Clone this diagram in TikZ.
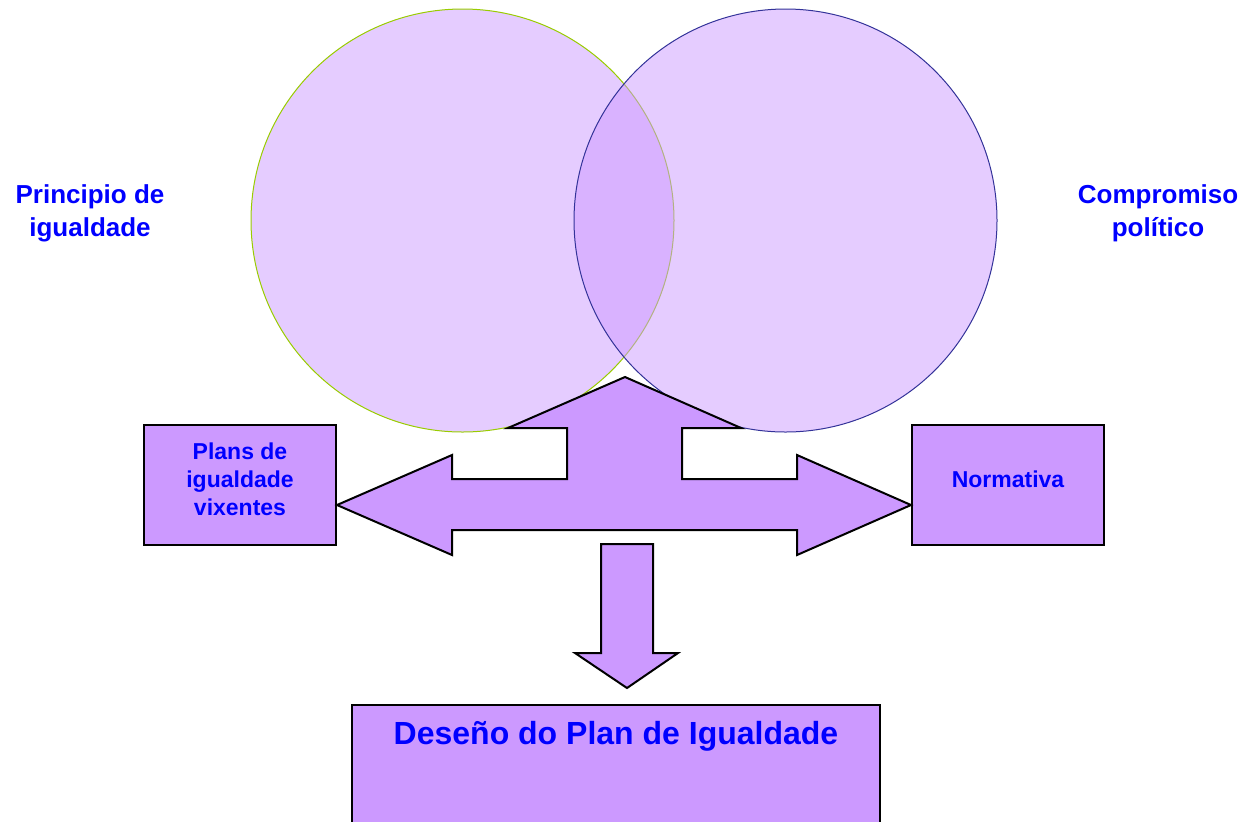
\documentclass[tikz,border=0pt]{standalone}
\usepackage{fontspec}
\setmainfont{Liberation Sans}
\definecolor{lila}{HTML}{CC99FF}
\definecolor{azul}{HTML}{0000FF}
\definecolor{verdeborde}{HTML}{99CC00}
\definecolor{azulborde}{HTML}{333399}
\tikzset{
  circulo/.style={circle, inner sep=0pt, minimum size=211.5pt, fill=lila,
    fill opacity=0.5, line width=0.5pt},
  caixa/.style={rectangle, draw=black, fill=lila, line width=1pt,
    minimum width=96pt, minimum height=60pt, inner sep=0pt},
  titulo/.style={text=azul, font=\fontsize{13}{16.5}\selectfont\bfseries, align=center},
  textocaixa/.style={text=azul, font=\fontsize{11.5}{14}\selectfont\bfseries, align=center},
  frecha/.style={draw=black, fill=lila, line width=1pt, line join=miter}
}
\begin{document}
\begin{tikzpicture}[x=0.5pt,y=-0.5pt]
  \useasboundingbox (0,0) rectangle (1246,821);
  \clip (0,0) rectangle (1246,821);
  % circulos
  \node [circulo, draw=verdeborde] (igualdade) at (462.5,220.5) {};
  \node [circulo, draw=azulborde] (compromiso) at (785.5,220.5) {};
  \node [titulo] (principiotxt) at (90,213) {Principio de\\igualdade};
  \node [titulo] (compromisotxt) at (1158,213) {Compromiso\\político};
  % caixas
  \node [caixa] (plans) at (240,485) {};
  \node [textocaixa] (planstxt) at (240,479) {Plans de\\igualdade\\vixentes};
  \node [caixa] (normativa) at (1008,485) {};
  \node [textocaixa] (normativatxt) at (1008,479) {Normativa};
  % frecha de tres puntas
  \draw [frecha] (625,377) -- (741,428) -- (682,428) -- (682,479) -- (797,479)
    -- (797,455) -- ([yshift=-10pt]normativa.west) -- (797,555) -- (797,530)
    -- (452,530) -- (452,555) -- ([yshift=-10pt]plans.east) -- (452,455)
    -- (452,479) -- (567,479) -- (567,428) -- (508,428) -- cycle;
  % frecha abaixo
  \draw [frecha] (601,544) -- (653,544) -- (653,653) -- (678,653) -- (627,688)
    -- (575,653) -- (601,653) -- cycle;
  \node [caixa, minimum width=264pt, minimum height=62.5pt] (deseno) at (616,767.5) {};
  \node [text=azul, font=\fontsize{16}{19}\selectfont\bfseries] (desenotxt) at (616,736)
    {Deseño do Plan de Igualdade};
\end{tikzpicture}
\end{document}
